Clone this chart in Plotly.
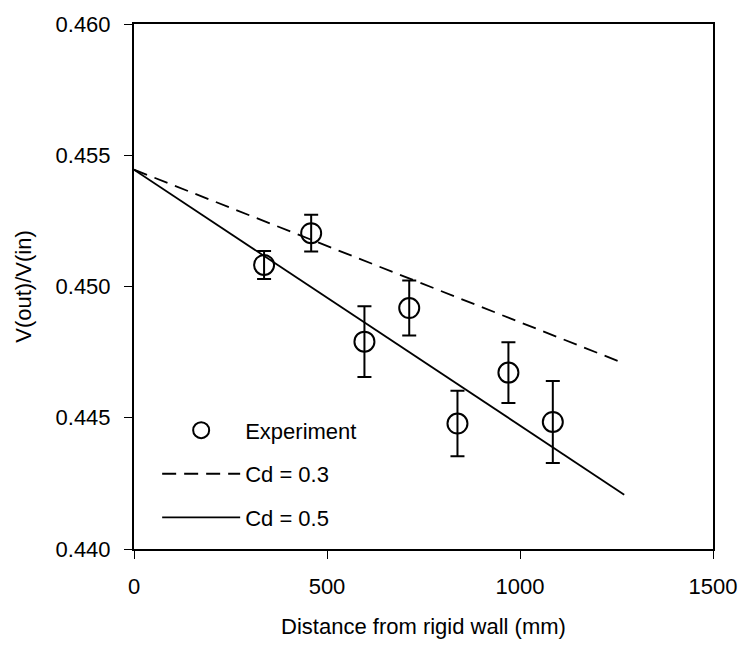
import plotly.graph_objects as go

# Experimental data
x_exp = [337, 459, 597, 713, 838, 970, 1085]
y_exp = [0.45082, 0.45203, 0.44790, 0.44918, 0.44478, 0.44672, 0.44484]
err_exp = [0.00053, 0.00070, 0.00135, 0.00105, 0.00125, 0.00116, 0.00156]

# Model lines
x_line = [0, 1270]
y_cd03 = [0.45445, 0.44707]
y_cd05 = [0.45445, 0.44207]

x_ticks = [0, 500, 1000, 1500]
y_ticks = [0.440, 0.445, 0.450, 0.455, 0.460]

FONT = "Liberation Sans, Arial, sans-serif"
FS = 22

fig = go.Figure()
fig.add_trace(go.Scatter(
    x=x_exp, y=y_exp, mode="markers", name="Experiment", legendgroup="a",
    marker=dict(symbol="circle-open", size=20, color="black", line=dict(width=2, color="black")),
    error_y=dict(type="data", array=err_exp, visible=True, color="black", thickness=2, width=7),
))
fig.add_trace(go.Scatter(
    x=x_line, y=y_cd03, mode="lines", name="Cd = 0.3", legendgroup="b",
    line=dict(color="black", width=1.8, dash="14px,8px"),
))
fig.add_trace(go.Scatter(
    x=x_line, y=y_cd05, mode="lines", name="Cd = 0.5", legendgroup="c",
    line=dict(color="black", width=1.8),
))

axis_common = dict(
    showgrid=False, zeroline=False, showline=True, linecolor="black", linewidth=2,
    mirror=True, ticks="outside", ticklen=8, tickwidth=1, tickcolor="black",
    tickfont=dict(family=FONT, size=FS, color="black"), ticklabelstandoff=9,
)
fig.update_layout(
    width=749, height=647,
    margin=dict(l=134, r=28, t=20, b=93),
    paper_bgcolor="white", plot_bgcolor="white",
    font=dict(family=FONT, size=FS, color="black"),
    xaxis=dict(range=[0, 1500], tickvals=x_ticks, ticktext=[str(v) for v in x_ticks],
               title=dict(text="Distance from rigid wall (mm)", font=dict(family=FONT, size=FS), standoff=20),
               **axis_common),
    yaxis=dict(range=[0.440, 0.460], tickvals=y_ticks, ticktext=[f"{v:.3f}" for v in y_ticks],
               title=dict(text="V(out)/V(in)", font=dict(family=FONT, size=FS), standoff=18),
               **axis_common),
    legend=dict(x=0.040, y=0.266, xanchor="left", yanchor="top", bgcolor="rgba(0,0,0,0)",
                font=dict(family=FONT, size=FS), itemwidth=78, traceorder="grouped", tracegroupgap=12),
)
fig.write_html("out.html")
